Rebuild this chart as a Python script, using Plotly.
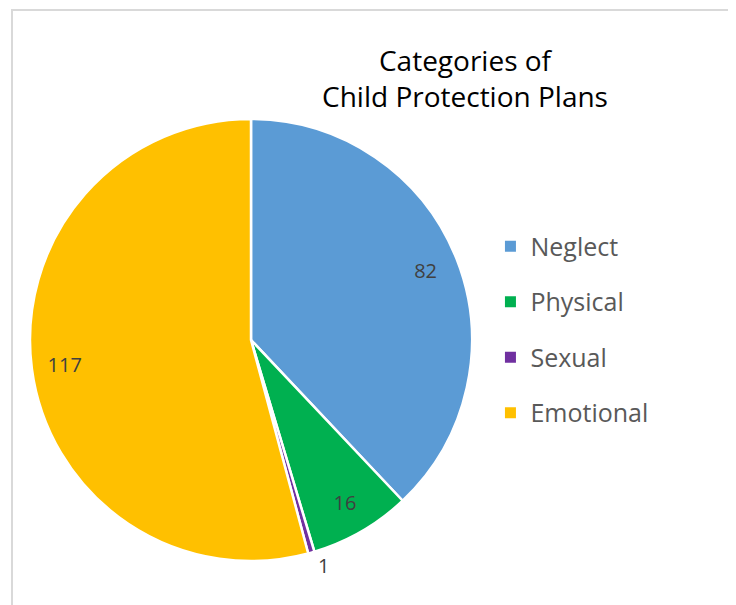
import plotly.graph_objects as go

categories = ["Neglect", "Physical", "Sexual", "Emotional"]
values = [82, 16, 1, 117]
colors = ["#5B9BD5", "#00B050", "#7030A0", "#FFC000"]
text_positions = ["inside", "inside", "outside", "inside"]

W, H = 736, 605
OFF = 8  # page body margin in the browser
FONT = "Open Sans, Liberation Sans, sans-serif"

# pie geometry in screen pixels
cx, cy, R = 251, 340, 221
dom_x = [(cx - R - OFF) / W, (cx + R - OFF) / W]
dom_y = [1 - (cy + R - OFF) / H, 1 - (cy - R - OFF) / H]

fig = go.Figure()
# filled slices
fig.add_trace(go.Pie(
    labels=categories,
    values=values,
    sort=False,
    direction="clockwise",
    rotation=0,
    marker=dict(colors=colors, line=dict(color="white", width=2.5)),
    textinfo="none",
    showlegend=False,
    domain=dict(x=dom_x, y=dom_y),
    hoverinfo="label+value",
))
# data labels (transparent ring so labels sit near the outer edge)
fig.add_trace(go.Pie(
    labels=categories,
    values=values,
    sort=False,
    direction="clockwise",
    rotation=0,
    hole=0.70,
    marker=dict(colors=["rgba(0,0,0,0)"] * len(values), line=dict(width=0)),
    textinfo="value",
    textposition=text_positions,
    insidetextorientation="horizontal",
    textfont=dict(size=20, color="#404040", family=FONT),
    showlegend=False,
    domain=dict(x=dom_x, y=dom_y),
    hoverinfo="skip",
))

for cat, col in zip(categories, colors):
    fig.add_trace(go.Scatter(
        x=[None], y=[None], mode="markers", name=cat,
        legendgroup=cat,
        marker=dict(symbol="square", size=11, color=col),
        showlegend=True,
    ))

fig.update_layout(
    width=W, height=H,
    margin=dict(l=0, r=0, t=0, b=0),
    paper_bgcolor="white",
    plot_bgcolor="white",
    font=dict(family=FONT),
    title=dict(
        text="Categories of<br>Child Protection Plans",
        x=(465 - OFF) / W, xanchor="center",
        y=1 - 63 / H, yanchor="middle",
        font=dict(size=28, color="#000000", family=FONT),
    ),
    legend=dict(
        x=0.6555, xanchor="left",
        y=0.4686, yanchor="middle",
        font=dict(size=25, color="#595959", family=FONT),
        tracegroupgap=20,
        traceorder="grouped",
        bgcolor="rgba(0,0,0,0)",
    ),
    xaxis=dict(visible=False),
    yaxis=dict(visible=False),
    shapes=[dict(
        type="rect", xref="paper", yref="paper",
        x0=(12 - OFF) / W, x1=(732 - OFF) / W, y0=-0.2, y1=1 - (10 - OFF) / H,
        line=dict(color="#D9D9D9", width=2),
        fillcolor="rgba(0,0,0,0)",
        layer="below",
    )],
)

fig.write_html("out.html")
